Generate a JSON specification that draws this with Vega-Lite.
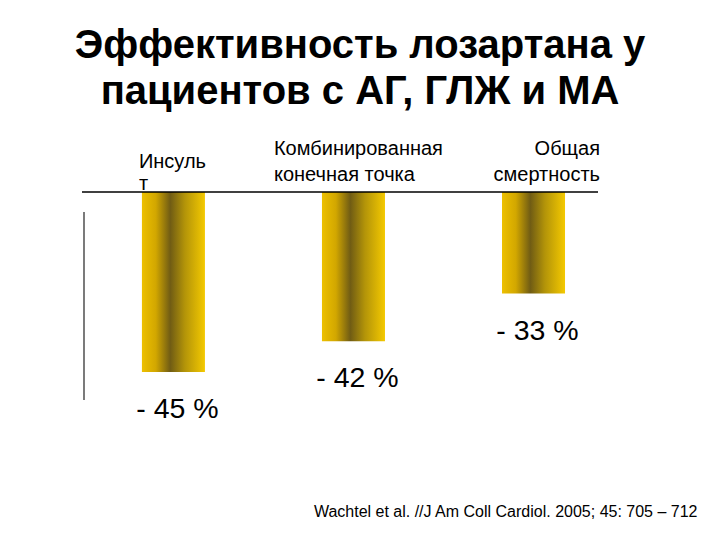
{
  "$schema": "https://vega.github.io/schema/vega-lite/v6.json",
  "width": 516,
  "height": 228,
  "autosize": {"type": "none"},
  "padding": {"left": 82, "top": 192, "right": 122, "bottom": 120},
  "background": "white",
  "config": {
    "view": {"stroke": null},
    "font": "Liberation Sans",
    "text": {"font": "Liberation Sans", "color": "black"}
  },
  "title": {
    "text": ["Эффективность лозартана у", "пациентов с АГ, ГЛЖ и МА"],
    "font": "Liberation Sans",
    "fontSize": 40,
    "fontWeight": "bold",
    "color": "black",
    "anchor": "middle",
    "dx": 20,
    "lineHeight": 46,
    "offset": 27
  },
  "data": {
    "values": [
      {"cat": "Инсульт", "head": "Инсуль\nт", "pct": -45, "label": "- 45 %", "bar": -45},
      {"cat": "Комбинированная конечная точка", "head": "Комбинированная\nконечная точка", "pct": -42, "label": "- 42 %", "bar": -37.3},
      {"cat": "Общая смертность", "head": "Общая\nсмертность", "pct": -33, "label": "- 33 %", "bar": -25.4}
    ]
  },
  "layer": [
    {
      "mark": {
        "type": "bar",
        "stroke": null,
        "fill": {
          "gradient": "linear",
          "x1": 0, "y1": 0, "x2": 1, "y2": 0,
          "stops": [
            {"offset": 0, "color": "#EDC000"},
            {"offset": 0.22, "color": "#D2A700"},
            {"offset": 0.45, "color": "#705C14"},
            {"offset": 0.68, "color": "#B39409"},
            {"offset": 1, "color": "#F4C900"}
          ]
        }
      },
      "encoding": {
        "x": {
          "field": "cat",
          "type": "nominal",
          "sort": null,
          "scale": {"type": "band", "paddingInner": 0.65, "paddingOuter": 0.258, "align": 0.645},
          "axis": {
            "orient": "bottom",
            "labels": false,
            "ticks": false,
            "domain": false,
            "grid": false,
            "title": "Wachtel et al. //J Am Coll Cardiol. 2005; 45: 705 – 712",
            "titleFont": "Liberation Sans",
            "titleFontSize": 16,
            "titleFontWeight": "normal",
            "titleColor": "black",
            "titleAlign": "right",
            "titleAnchor": null,
            "titleBaseline": "alphabetic",
            "titleX": 615,
            "titleY": 96
          }
        },
        "y": {
          "field": "bar",
          "type": "quantitative",
          "scale": {"domain": [-57, 0], "nice": false, "zero": true},
          "axis": null
        }
      }
    },
    {
      "mark": {"type": "text", "fontSize": 28.5, "baseline": "alphabetic", "align": "center", "dy": 46, "dx": 4},
      "encoding": {
        "x": {"field": "cat", "type": "nominal", "sort": null},
        "y": {"field": "bar", "type": "quantitative"},
        "text": {"field": "label"}
      }
    },
    {
      "transform": [{"filter": "datum.cat === 'Инсульт'"}],
      "mark": {"type": "text", "fontSize": 20, "align": "left", "baseline": "alphabetic", "lineBreak": "\n", "lineHeight": 22, "dx": -3, "dy": -24},
      "encoding": {
        "x": {"field": "cat", "type": "nominal", "sort": null, "bandPosition": 0},
        "y": {"datum": 0},
        "text": {"field": "head"}
      }
    },
    {
      "transform": [{"filter": "datum.cat === 'Комбинированная конечная точка'"}],
      "mark": {"type": "text", "fontSize": 20, "align": "left", "baseline": "alphabetic", "lineBreak": "\n", "lineHeight": 26, "dx": -48, "dy": -37},
      "encoding": {
        "x": {"field": "cat", "type": "nominal", "sort": null, "bandPosition": 0},
        "y": {"datum": 0},
        "text": {"field": "head"}
      }
    },
    {
      "transform": [{"filter": "datum.cat === 'Общая смертность'"}],
      "mark": {"type": "text", "fontSize": 20, "align": "right", "baseline": "alphabetic", "lineBreak": "\n", "lineHeight": 26, "dx": 35, "dy": -37},
      "encoding": {
        "x": {"field": "cat", "type": "nominal", "sort": null, "bandPosition": 1},
        "y": {"datum": 0},
        "text": {"field": "head"}
      }
    },
    {
      "data": {"values": [{}]},
      "mark": {"type": "rule", "color": "black", "strokeWidth": 1.5},
      "encoding": {
        "y": {"datum": 0}
      }
    },
    {
      "data": {"values": [{}]},
      "mark": {"type": "rule", "color": "#222222", "strokeWidth": 1.2},
      "encoding": {
        "x": {"value": 2},
        "y": {"datum": -5},
        "y2": {"datum": -52}
      }
    }
  ]
}
